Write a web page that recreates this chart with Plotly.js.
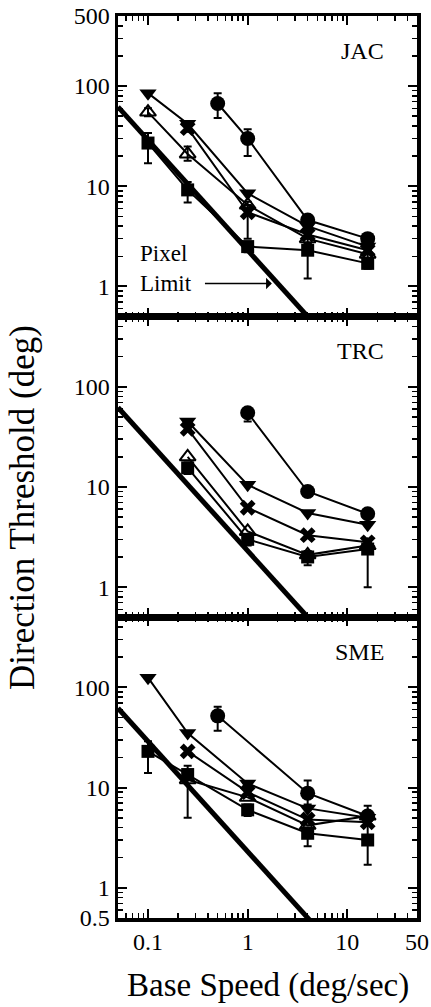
<!DOCTYPE html>
<html>
<head>
<meta charset="utf-8">
<script src="https://cdn.plot.ly/plotly-3.0.1.min.js"></script>
<style>html,body{margin:0;padding:0;background:#fff;}#chart{width:431px;height:1007px;}</style>
</head>
<body>
<div id="chart"></div>
<script>
// ---------------- data ----------------
const panelNames = ["JAC", "TRC", "SME"];

// Pixel limit line
const pixelSpeed = [0.05, 4.2];
const pixelThreshold = [62, 0.475];

// JAC
const jacCircleX = [0.5, 1, 4, 16];
const jacCircleY = [67, 30, 4.6, 3.0];
const jacCircleErrUp = [18, 7, 0.4, 0.3];
const jacCircleErrDn = [19, 10, 0.4, 0.3];
const jacTriDownX = [0.1, 0.25, 1, 4, 16];
const jacTriDownY = [85, 42, 8.5, 4.0, 2.5];
const jacCrossX = [0.25, 1, 4, 16];
const jacCrossY = [38, 5.5, 3.3, 2.3];
const jacCrossErrUp = [3, 1, 0.3, 0.2];
const jacCrossErrDn = [3, 2.5, 0.3, 0.2];
const jacTriUpX = [0.1, 0.25, 1, 4, 16];
const jacTriUpY = [55, 21, 6.5, 3.0, 2.1];
const jacTriUpErrUp = [5, 4, 0.5, 0.3, 0.2];
const jacTriUpErrDn = [5, 3, 0.5, 0.3, 0.2];
const jacSquareX = [0.1, 0.25, 1, 4, 16];
const jacSquareY = [27, 9.2, 2.5, 2.3, 1.7];
const jacSquareErrUp = [7, 1.8, 0.3, 0.4, 0.2];
const jacSquareErrDn = [10, 2.3, 0.3, 1.1, 0.2];

// TRC
const trcCircleX = [1, 4, 16];
const trcCircleY = [55, 9.0, 5.4];
const trcCircleErrUp = [4, 0.8, 0.5];
const trcCircleErrDn = [10, 0.8, 0.5];
const trcTriDownX = [0.25, 1, 4, 16];
const trcTriDownY = [45, 10.5, 5.5, 4.2];
const trcCrossX = [0.25, 1, 4, 16];
const trcCrossY = [38, 6.2, 3.3, 2.8];
const trcTriUpX = [0.25, 1, 4, 16];
const trcTriUpY = [20, 3.6, 2.1, 2.6];
const trcSquareX = [0.25, 1, 4, 16];
const trcSquareY = [15.5, 3.0, 2.0, 2.4];
const trcSquareErrUp = [2, 0.4, 0.3, 0.5];
const trcSquareErrDn = [2, 0.4, 0.35, 1.4];

// SME
const smeCircleX = [0.5, 4, 16];
const smeCircleY = [52, 8.8, 5.2];
const smeCircleErrUp = [12, 3, 0.6];
const smeCircleErrDn = [15, 2, 0.6];
const smeTriDownX = [0.1, 0.25, 1, 4, 16];
const smeTriDownY = [125, 35, 11, 6.2, 5.0];
const smeCrossX = [0.25, 1, 4, 16];
const smeCrossY = [23, 9.0, 4.8, 4.5];
const smeTriUpX = [0.25, 1, 4, 16];
const smeTriUpY = [12, 8.0, 4.2, 5.2];
const smeSquareX = [0.1, 0.25, 1, 4, 16];
const smeSquareY = [23, 13.5, 6.0, 3.5, 3.0];
const smeSquareErrUp = [6, 3, 0.8, 0.5, 3.6];
const smeSquareErrDn = [9, 8.5, 0.8, 0.9, 1.3];

const xTickVals = [0.1, 1, 10, 50];
const xTickText = ["0.1", "1", "10", "50"];
const yTickVals = [[1, 10, 100, 500], [1, 10, 100], [0.5, 1, 10, 100]];
const yTickText = [["1", "10", "100", "500"], ["1", "10", "100"], ["0.5", "1", "10", "100"]];

// ---------------- build ----------------
const FONT = "Liberation Serif, Times New Roman, serif";
const traces = [];

function errObj(up, dn) {
  if (!up) return undefined;
  return {type: "data", symmetric: false, array: up, arrayminus: dn, color: "#000", thickness: 2, width: 4};
}
function series(i, x, y, symbol, size, up, dn, open) {
  const ax = i === 0 ? "" : String(i + 1);
  traces.push({
    type: "scatter", mode: "lines+markers", x: x, y: y,
    xaxis: "x" + ax, yaxis: "y" + ax,
    line: {color: "#000", width: 2},
    marker: {symbol: symbol, size: size, color: "#000",
             line: {color: "#000", width: open ? 2 : 0}},
    error_y: errObj(up, dn),
    showlegend: false, hoverinfo: "skip", cliponaxis: false
  });
}

const panels = [
  [[jacCircleX, jacCircleY, jacCircleErrUp, jacCircleErrDn],
   [jacTriDownX, jacTriDownY], [jacCrossX, jacCrossY, jacCrossErrUp, jacCrossErrDn],
   [jacTriUpX, jacTriUpY, jacTriUpErrUp, jacTriUpErrDn],
   [jacSquareX, jacSquareY, jacSquareErrUp, jacSquareErrDn]],
  [[trcCircleX, trcCircleY, trcCircleErrUp, trcCircleErrDn],
   [trcTriDownX, trcTriDownY], [trcCrossX, trcCrossY],
   [trcTriUpX, trcTriUpY], [trcSquareX, trcSquareY, trcSquareErrUp, trcSquareErrDn]],
  [[smeCircleX, smeCircleY, smeCircleErrUp, smeCircleErrDn],
   [smeTriDownX, smeTriDownY], [smeCrossX, smeCrossY],
   [smeTriUpX, smeTriUpY], [smeSquareX, smeSquareY, smeSquareErrUp, smeSquareErrDn]]
];
const symbols = ["circle", "triangle-down", "x", "triangle-up-open", "square"];
const sizes = [15, 15, 14, 14, 13];

panels.forEach((p, i) => {
  const ax = i === 0 ? "" : String(i + 1);
  traces.push({type: "scatter", mode: "lines", x: pixelSpeed, y: pixelThreshold,
    xaxis: "x" + ax, yaxis: "y" + ax, line: {color: "#000", width: 5},
    showlegend: false, hoverinfo: "skip"});
  p.forEach((s, k) => series(i, s[0], s[1], symbols[k], sizes[k], s[2], s[3], k === 3));
});

// minor ticks
const minorVals = [];
for (let e = -2; e <= 3; e++) for (let m = 2; m <= 9; m++) minorVals.push(m * Math.pow(10, e));

const layout = {
  width: 431, height: 1007,
  margin: {l: 118, r: 14, t: 16, b: 89},
  paper_bgcolor: "#fff", plot_bgcolor: "#fff",
  font: {family: FONT, color: "#000", size: 20},
  showlegend: false,
  annotations: []
};
const domains = [[2/3, 1], [1/3, 2/3], [0, 1/3]];
for (let i = 0; i < 3; i++) {
  const ax = i === 0 ? "" : String(i + 1);
  layout["xaxis" + ax] = {
    type: "log", range: [Math.log10(0.05), Math.log10(50)], anchor: "y" + ax,
    tickvals: xTickVals, ticktext: xTickText, showticklabels: i === 2,
    ticks: "inside", ticklen: 9, tickwidth: 2, tickcolor: "#000",
    showline: true, linewidth: 3.5, linecolor: "#000", mirror: "ticks",
    showgrid: false, zeroline: false,
    minor: {tickvals: minorVals, ticks: "inside", ticklen: 5, tickwidth: 1.5, tickcolor: "#000", showgrid: false},
    tickfont: {family: FONT, size: 24, color: "#000"}
  };
  layout["yaxis" + ax] = {
    type: "log", range: [Math.log10(0.4995), Math.log10(500.5)], domain: domains[i], anchor: "x" + ax,
    tickvals: yTickVals[i], ticktext: yTickText[i],
    ticks: "inside", ticklen: 9, tickwidth: 2, tickcolor: "#000",
    showline: true, linewidth: 3.5, linecolor: "#000", mirror: "ticks",
    showgrid: false, zeroline: false,
    minor: {tickvals: minorVals, ticks: "inside", ticklen: 5, tickwidth: 1.5, tickcolor: "#000", showgrid: false},
    tickfont: {family: FONT, size: 24, color: "#000"}
  };
  layout.annotations.push({
    text: panelNames[i], xref: "x" + ax + " domain", yref: "y" + ax + " domain",
    x: 0.895, y: 0.885, xanchor: "right", yanchor: "middle", showarrow: false,
    font: {family: FONT, size: 24, color: "#000"}
  });
}
// Pixel limit label + arrow (log axes: annotation coords in log10)
layout.annotations.push({
  text: "Pixel<br>Limit", xref: "x", yref: "y", x: Math.log10(0.08), y: Math.log10(1.5),
  xanchor: "left", yanchor: "middle", align: "left", showarrow: false,
  font: {family: FONT, size: 23, color: "#000"}
});
layout.annotations.push({
  text: "", xref: "x", yref: "y", axref: "x", ayref: "y",
  x: Math.log10(1.75), y: Math.log10(1.07), ax: Math.log10(0.36), ay: Math.log10(1.07),
  showarrow: true, arrowhead: 1, arrowsize: 1.3, arrowwidth: 1.5, arrowcolor: "#000"
});
layout.annotations.push({
  text: "Direction Threshold (deg)", xref: "paper", yref: "paper",
  x: -0.32, y: 0.455, textangle: -90, showarrow: false, xanchor: "center", yanchor: "middle",
  font: {family: FONT, size: 35, color: "#000"}
});
layout.annotations.push({
  text: "Base Speed (deg/sec)", xref: "paper", yref: "paper",
  x: 0.5, y: -0.075, showarrow: false, xanchor: "center", yanchor: "middle",
  font: {family: FONT, size: 33, color: "#000"}
});

Plotly.newPlot("chart", traces, layout, {staticPlot: true, displayModeBar: false});
</script>
</body>
</html>
